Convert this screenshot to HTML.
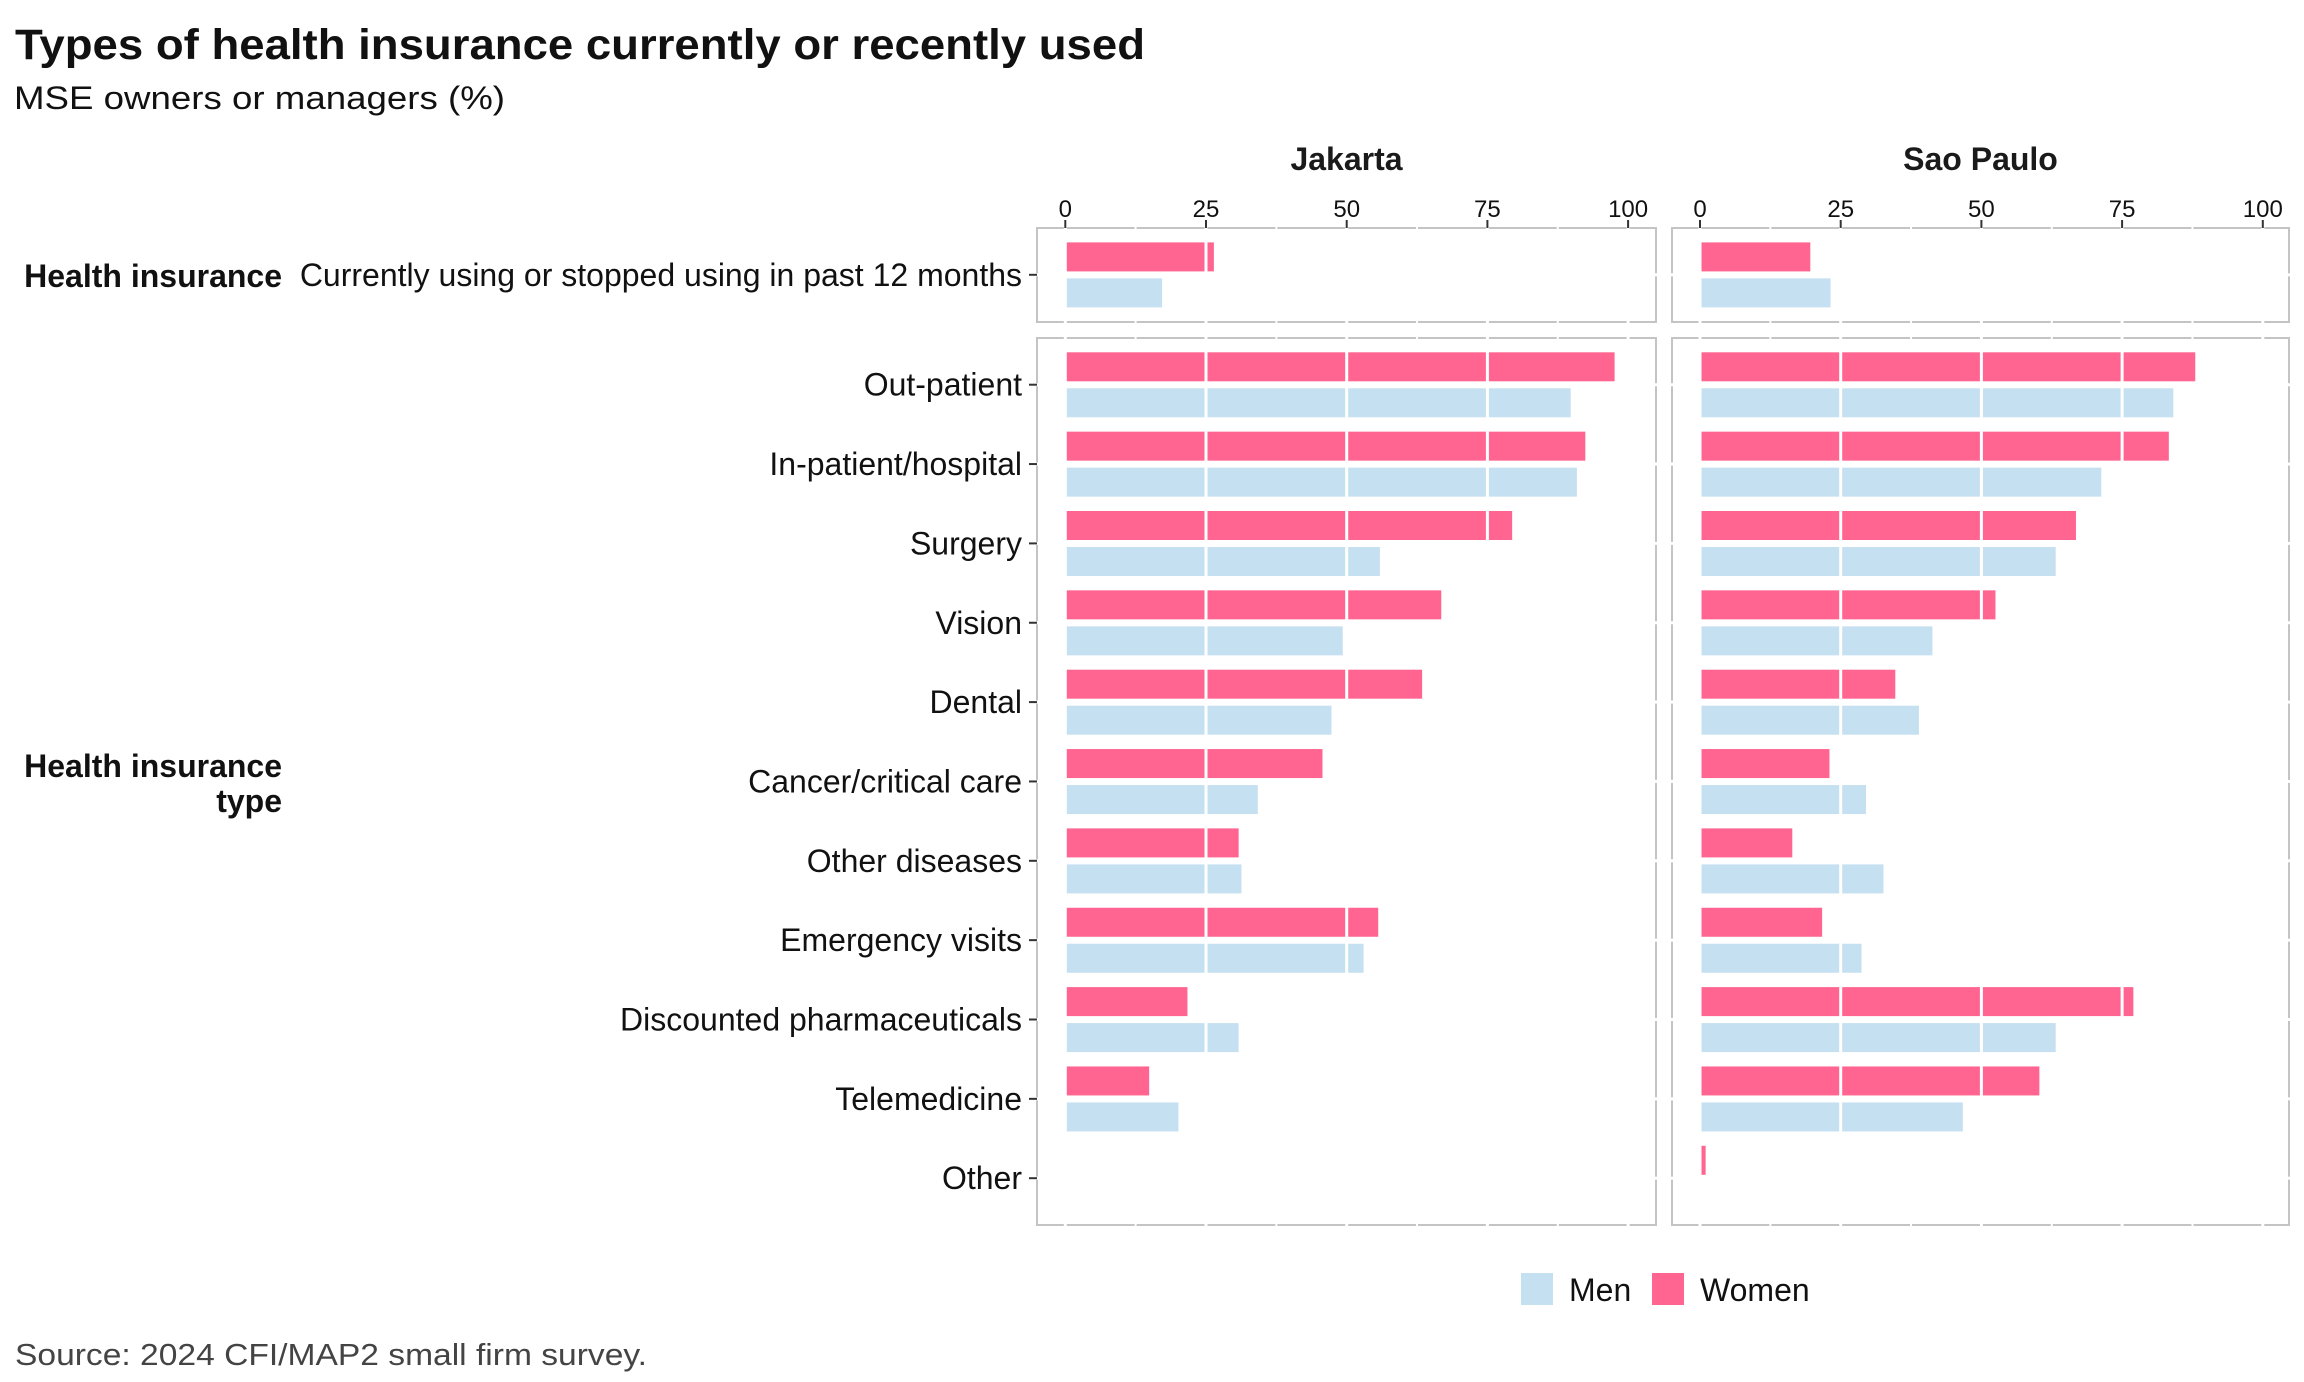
<!DOCTYPE html>
<html><head><meta charset="utf-8"><style>
html,body{margin:0;padding:0;background:#fff;}
svg{display:block;font-family:"Liberation Sans",Arial,sans-serif;}
</style></head><body>
<svg id="chart" width="2304" height="1382" viewBox="0 0 2304 1382" xmlns="http://www.w3.org/2000/svg">
<text x="15" y="59" font-size="43" font-weight="bold" fill="#111" textLength="1130" lengthAdjust="spacingAndGlyphs">Types of health insurance currently or recently used</text>
<text x="14" y="109" font-size="32" fill="#111" textLength="491" lengthAdjust="spacingAndGlyphs">MSE owners or managers (%)</text>
<text x="15" y="1365" font-size="31" fill="#444" textLength="632" lengthAdjust="spacingAndGlyphs">Source: 2024 CFI/MAP2 small firm survey.</text>
<g id="plot"></g>
</svg>
<script>
const categories = ["Out-patient","In-patient/hospital","Surgery","Vision","Dental","Cancer/critical care","Other diseases","Emergency visits","Discounted pharmaceuticals","Telemedicine","Other"];
const topCategory = ["Currently using or stopped using in past 12 months"];
const cities = ["Jakarta","Sao Paulo"];
const jakartaTopWomen = [26.4];
const jakartaTopMen = [17.2];
const saoPauloTopWomen = [19.6];
const saoPauloTopMen = [23.2];
const jakartaWomen = [97.6,92.4,79.4,66.8,63.4,45.7,30.8,55.6,21.7,14.9,0];
const jakartaMen = [89.8,90.9,55.9,49.3,47.3,34.2,31.3,53.0,30.8,20.1,0];
const saoPauloWomen = [88.0,83.3,66.8,52.5,34.7,23.0,16.4,21.7,77.0,60.3,1.0];
const saoPauloMen = [84.1,71.3,63.2,41.3,38.9,29.5,32.6,28.7,63.2,46.7,0.2];
const tickValues = [0,25,50,75,100];
const tickLabels = ["0","25","50","75","100"];

const NS = "http://www.w3.org/2000/svg";
const plot = document.getElementById("plot");
function mk(tag, attrs, parent){
  const e = document.createElementNS(NS, tag);
  for (const k in attrs) e.setAttribute(k, attrs[k]);
  (parent||plot).appendChild(e);
  return e;
}
const panelsX = [{left:1037,right:1656,zero:1065.3},{left:1672,right:2289,zero:1700}];
const unit = 5.628;
function xScale(p, v){ return panelsX[p].zero + v*unit; }
const row1 = {top:228, bottom:322};
const row2 = {top:338, bottom:1225};
const topCenter = 274.8;
const firstCenter = 384.7, pitch = 79.35;
function yCat(i){ return firstCenter + i*pitch; }
const pink = "#ff6590", blue = "#c5e0f0";

const topData = [[jakartaTopWomen, jakartaTopMen],[saoPauloTopWomen, saoPauloTopMen]];
const mainData = [[jakartaWomen, jakartaMen],[saoPauloWomen, saoPauloMen]];

function bar(p, cy, v, isWomen, name){
  const x0 = xScale(p,0), w = Math.max(xScale(p,v)-x0, 0);
  const y = isWomen ? cy-32.4 : cy+3.6;
  const r = mk("rect",{x:x0,y:y,width:w,height:29,fill:isWomen?pink:blue});
  
  
}

for (let p=0;p<2;p++){
  const P = panelsX[p];
  const rows = [row1,row2];
  rows.forEach((rw)=>{
    const rect = mk("rect",{x:P.left,y:rw.top,width:P.right-P.left,height:rw.bottom-rw.top,fill:"#fff",stroke:"#c4c4c4","stroke-width":2});
    
    
  });
  bar(p, topCenter, topData[p][0][0], true, "bar-women-insured");
  bar(p, topCenter, topData[p][1][0], false, "bar-men-insured");
  categories.forEach((c,i)=>{
    bar(p, yCat(i), mainData[p][0][i], true, "bar-women");
    bar(p, yCat(i), mainData[p][1][i], false, "bar-men");
  });
  rows.forEach((rw)=>{
    for (let v=0; v<=100; v+=12.5){
      const gx = xScale(p,v);
      if (v%25===0){
        const ln = mk("line",{x1:gx,x2:gx,y1:rw.top-1,y2:rw.bottom+1,stroke:"#fff","stroke-width":3});
        
        
      } else {
        const a = mk("line",{x1:gx,x2:gx,y1:rw.top-2,y2:rw.top+2,stroke:"#fff","stroke-width":2});
        
        
        const b = mk("line",{x1:gx,x2:gx,y1:rw.bottom-2,y2:rw.bottom+2,stroke:"#fff","stroke-width":2});
        
        
      }
    }
  });
  [topCenter].concat(categories.map((c,i)=>yCat(i))).forEach(cy=>{
    const ln = mk("line",{x1:P.left-2,x2:P.left+2,y1:cy,y2:cy,stroke:"#fff","stroke-width":3});
    
    
    const ln2 = mk("line",{x1:P.right-2,x2:P.right+2,y1:cy,y2:cy,stroke:"#fff","stroke-width":3});
    
    
  });
  tickValues.forEach((v,k)=>{
    const tx = xScale(p,v);
    const tk = mk("line",{x1:tx,x2:tx,y1:220,y2:228,stroke:"#333","stroke-width":2});
    
    
    const t = mk("text",{x:tx,y:217,"font-size":24,"text-anchor":"middle",fill:"#111"});
    t.textContent = tickLabels[k];
    
    
  });
  const st = mk("text",{x:(P.left+P.right)/2,y:170,"font-size":32,"font-weight":"bold","text-anchor":"middle",fill:"#1a1a1a"});
  st.textContent = cities[p];
  
  
}
function ylab(txt, cy, name){
  const t = mk("text",{x:1022,y:cy+11,"font-size":32,"text-anchor":"end",fill:"#111"});
  t.textContent = txt;
  
  
  const tk = mk("line",{x1:1029,x2:1037,y1:cy,y2:cy,stroke:"#333","stroke-width":2});
  
  
}
ylab(topCategory[0], topCenter, "y-label-insured");
categories.forEach((c,i)=>ylab(c, yCat(i), "y-label"));
const s1 = mk("text",{x:282,y:287,"font-size":32,"font-weight":"bold","text-anchor":"end",fill:"#111"});
s1.textContent = "Health insurance";


const s2 = mk("text",{x:282,y:777,"font-size":32,"font-weight":"bold","text-anchor":"end",fill:"#111"});
s2.textContent = "Health insurance";


const s3 = mk("text",{x:282,y:812,"font-size":32,"font-weight":"bold","text-anchor":"end",fill:"#111"});
s3.textContent = "type";


const lg = mk("g",{});


const lm = mk("rect",{x:1521,y:1273,width:32,height:32,fill:blue},lg);


const lmt = mk("text",{x:1569,y:1301,"font-size":32,fill:"#111"},lg);
lmt.textContent = "Men";


const lw = mk("rect",{x:1652,y:1273,width:32,height:32,fill:pink},lg);


const lwt = mk("text",{x:1700,y:1301,"font-size":32,fill:"#111"},lg);
lwt.textContent = "Women";


</script>
</body></html>
